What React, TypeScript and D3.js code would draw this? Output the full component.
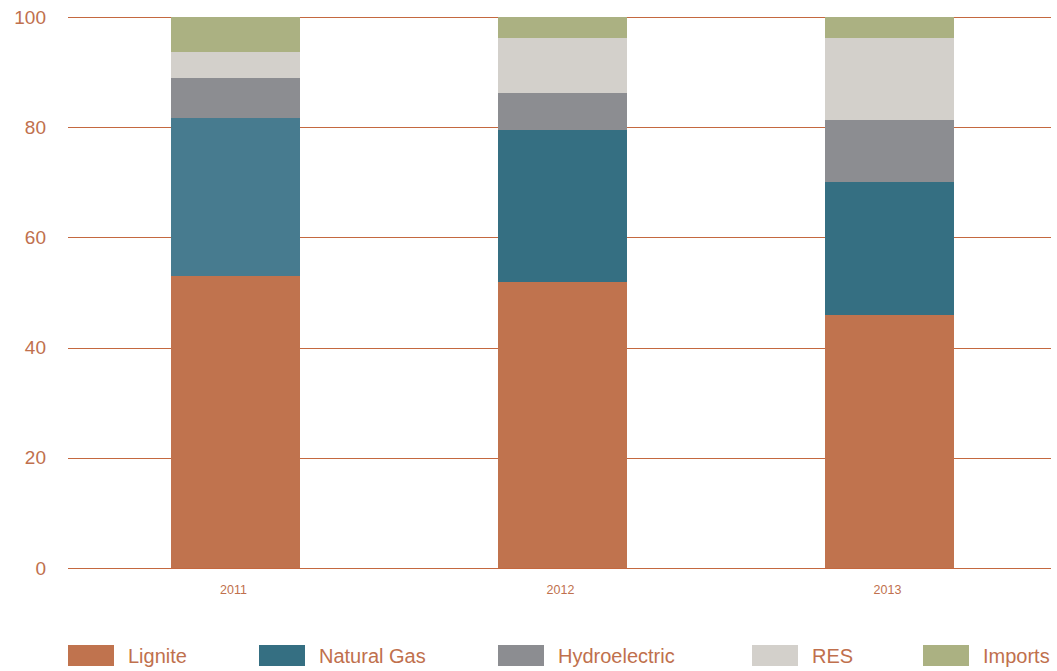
import React from "react";
import * as d3 from "d3";

const years = ["2011", "2012", "2013"];
const seriesNames = ["Lignite", "Natural Gas", "Hydroelectric", "RES", "Imports"];
const lignite = [53.0, 51.9, 45.9];
const naturalGas = [28.7, 27.6, 24.2];
const hydroelectric = [7.2, 6.7, 11.2];
const res = [4.7, 10.0, 14.9];
const imports = [6.4, 3.8, 3.8];
const yTicks = [0, 20, 40, 60, 80, 100];

const colors = ["#c0734e", "#356f82", "#8c8d91", "#d3d0cb", "#abb182"];
const highlightGas = "#477b8f";
const textColor = "#c0704d";

const W = 1057;
const H = 671;

export default function App() {
  const rows = years.map((y, i) => ({
    year: y,
    Lignite: lignite[i],
    "Natural Gas": naturalGas[i],
    Hydroelectric: hydroelectric[i],
    RES: res[i],
    Imports: imports[i],
  }));
  const stacked = d3.stack<any>().keys(seriesNames)(rows);

  const x = d3
    .scaleBand<string>()
    .domain(years)
    .range([72, 1053])
    .paddingInner(0.605)
    .paddingOuter(0.3025);
  const y = d3.scaleLinear().domain([0, 100]).range([568, 17]);

  const legendX = [68, 259, 498, 752, 923];

  return (
    <svg
      width={W}
      height={H}
      style={{ position: "absolute", left: 0, top: 0, fontFamily: "'Liberation Sans', Arial, sans-serif" }}
    >
      <rect width={W} height={H} fill="#ffffff" />
      {yTicks.map((t) => (
        <g key={t}>
          <line
            x1={68}
            x2={1051}
            y1={Math.round(y(t)) + 0.5}
            y2={Math.round(y(t)) + 0.5}
            stroke="#c4683f"
            strokeWidth={1}
            shapeRendering="crispEdges"
          />
          <text
            x={46}
            y={y(t)}
            textAnchor="end"
            dominantBaseline="central"
            fontSize={19}
            fill={textColor}
          >
            {t}
          </text>
        </g>
      ))}
      {stacked.map((s, si) => (
        <g key={s.key}>
          {s.map((d, i) => (
            <rect
              key={i}
              x={x(years[i])}
              width={x.bandwidth()}
              y={y(d[1])}
              height={y(d[0]) - y(d[1])}
              fill={si === 1 && i === 0 ? highlightGas : colors[si]}
              shapeRendering="crispEdges"
            />
          ))}
        </g>
      ))}
      {years.map((yr) => (
        <text
          key={yr}
          x={(x(yr) as number) + x.bandwidth() / 2 - 2}
          y={594}
          textAnchor="middle"
          fontSize={12.5}
          fill={textColor}
        >
          {yr}
        </text>
      ))}
      {seriesNames.map((n, i) => (
        <g key={n}>
          <rect x={legendX[i]} y={645} width={46} height={21} fill={colors[i]} />
          <text x={legendX[i] + 60} y={663} fontSize={20} fill={textColor}>
            {n}
          </text>
        </g>
      ))}
    </svg>
  );
}
